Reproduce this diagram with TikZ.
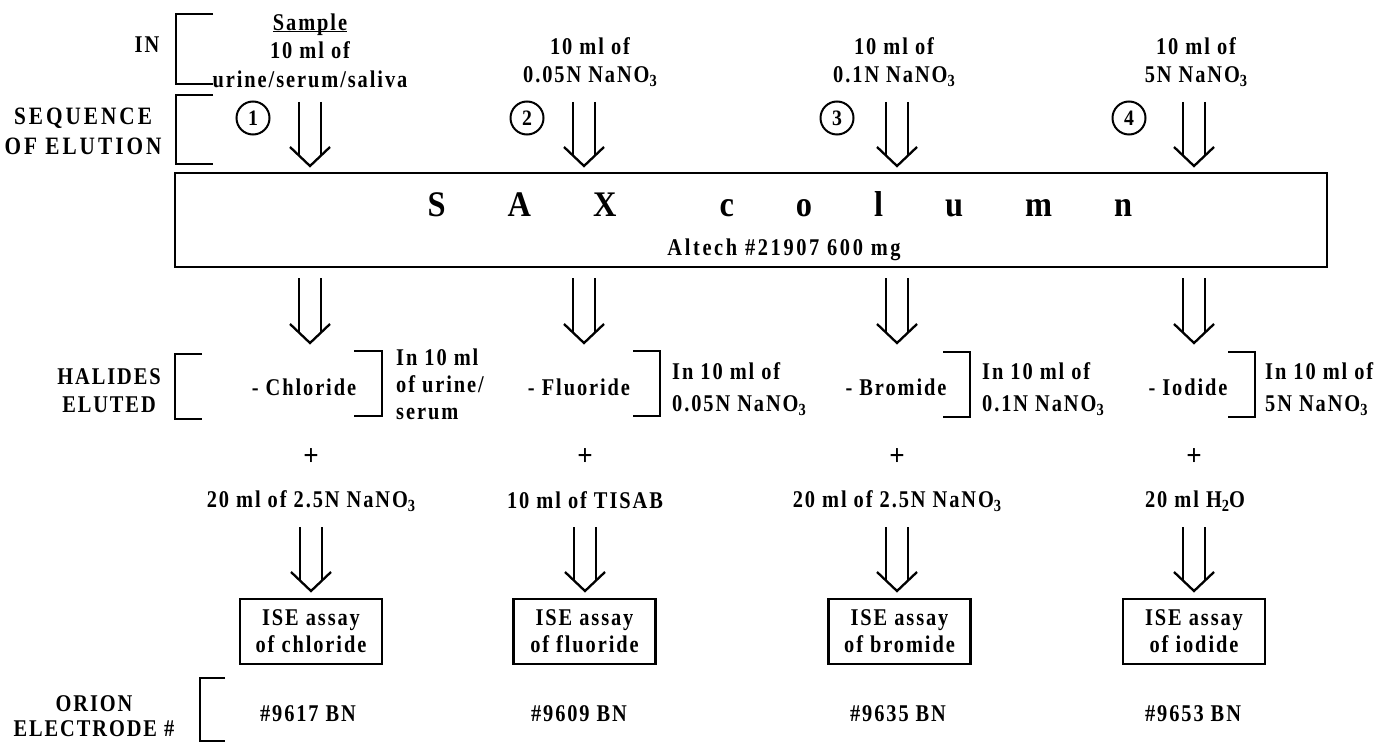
\documentclass[tikz,border=0pt]{standalone}
\usepackage{fontspec}
\setmainfont{Liberation Serif}
\newfontfamily\lsf[LetterSpace=8,FakeStretch=0.85]{Liberation Serif}
\newfontfamily\lsfw[LetterSpace=12,FakeStretch=0.85]{Liberation Serif}
\newfontfamily\lsfa[LetterSpace=11,FakeStretch=0.85]{Liberation Serif}
\newfontfamily\saxf[FakeStretch=0.9]{Liberation Serif}
\newcommand\subsc[1]{\raisebox{-0.4ex}{\fontsize{17}{17}\selectfont #1}}
\tikzset{
  txt/.style={font=\lsf\bfseries\fontsize{24}{28}\selectfont, inner sep=0pt, align=center},
  lbl/.style={font=\lsfw\bfseries\fontsize{25}{29}\selectfont, inner sep=0pt, align=center},
  note/.style={font=\lsf\bfseries\fontsize{24}{28}\selectfont, inner sep=0pt, align=left, anchor=west},
  plus/.style={font=\saxf\bfseries\fontsize{30}{30}\selectfont, inner sep=0pt},
  brk/.style={line width=2.8pt},
  boxl/.style={draw, line width=2.6pt, inner sep=0pt},
  num/.style={circle, draw, line width=2pt, minimum size=33pt, inner sep=0pt, font=\saxf\bfseries\fontsize{22}{22}\selectfont},
  dbl/.style={line width=2.3pt},
  pics/dblarr/.style={code={
    \draw[dbl] (-11,-#1) -- (-11,-11.4);
    \draw[dbl] (11,-#1) -- (11,-11.4);
    \draw[dbl] (-20,-19) -- (0,0) -- (20,-19);
  }}
}
\begin{document}
\begin{tikzpicture}[x=1pt,y=-1pt]
\useasboundingbox (0,0) rectangle (1399,743);
% left labels and brackets
\node[lbl, font=\lsf\bfseries\fontsize{24}{29}\selectfont] (in) at (147,45) {IN};
\draw[brk] (213,14) -- (176,14) -- (176,84) -- (213,84);
\node[lbl, font=\lsfw\bfseries\fontsize{25}{30}\selectfont] (seq) at (83,131) {SEQUENCE\\OF ELUTION};
\draw[brk] (213,95) -- (176,95) -- (176,164) -- (213,164);
\node[lbl, font=\lsf\bfseries\fontsize{24}{28}\selectfont] (hal) at (109,391) {HALIDES\\ELUTED};
\draw[brk] (202,354) -- (175,354) -- (175,419) -- (202,419);
\node[lbl, font=\lsf\bfseries\fontsize{24}{25}\selectfont] (ori) at (94,716) {ORION\\ELECTRODE \#};
\draw[brk] (225,678) -- (200,678) -- (200,741) -- (225,741);
% inputs
\node[txt, font=\lsf\bfseries\fontsize{24}{28.5}\selectfont] (in1) at (310,51) {\vphantom{S}\underline{\smash{Sample}}\\10 ml of\\urine/serum/saliva};
\node[txt] (in2) at (590,62) {10 ml of\\0.05N NaNO\subsc{3}};
\node[txt] (in3) at (894,62) {10 ml of\\0.1N NaNO\subsc{3}};
\node[txt] (in4) at (1196,62) {10 ml of\\5N NaNO\subsc{3}};
\node[num] (c1) at (253,118) {1};
\node[num] (c2) at (527,118) {2};
\node[num] (c3) at (837,118) {3};
\node[num] (c4) at (1129,118) {4};
\pic at (310,166) {dblarr=64};
\pic at (584,166) {dblarr=64};
\pic at (897,166) {dblarr=64};
\pic at (1194,166) {dblarr=64};
% SAX column
\node[boxl, minimum width=1152pt, minimum height=94pt] (sax) at (751,220) {};
\node[anchor=base west, inner sep=0pt, font=\saxf\bfseries\fontsize{36}{36}\selectfont] (saxt) at (427.5,217)
  {S\hspace{62pt}A\hspace{62pt}X\hspace{103pt}c\hspace{62pt}o\hspace{62pt}l\hspace{62pt}u\hspace{62pt}m\hspace{62pt}n};
\node[inner sep=0pt, font=\lsfa\bfseries\fontsize{24}{24}\selectfont] (alt) at (784,250) {Altech \#21907 600 mg};
\pic at (310,343) {dblarr=65};
\pic at (584,343) {dblarr=65};
\pic at (897,343) {dblarr=65};
\pic at (1194,343) {dblarr=65};
% halides
\node[txt] (h1) at (304,387) {- Chloride};
\draw[brk] (354,351) -- (382,351) -- (382,416) -- (354,416);
\node[note, font=\lsf\bfseries\fontsize{24}{27}\selectfont] (n1) at (396,384) {In 10 ml\\of urine/\\serum};
\node[txt] (h2) at (579,387) {- Fluoride};
\draw[brk] (633,351) -- (660,351) -- (660,416) -- (633,416);
\node[note, font=\lsf\bfseries\fontsize{24}{32}\selectfont] (n2) at (672,389) {In 10 ml of\\0.05N NaNO\subsc{3}};
\node[txt] (h3) at (896,387) {- Bromide};
\draw[brk] (943,352) -- (970,352) -- (970,417) -- (943,417);
\node[note, font=\lsf\bfseries\fontsize{24}{32}\selectfont] (n3) at (982,389) {In 10 ml of\\0.1N NaNO\subsc{3}};
\node[txt] (h4) at (1188,387) {- Iodide};
\draw[brk] (1228,352) -- (1255,352) -- (1255,417) -- (1228,417);
\node[note, font=\lsf\bfseries\fontsize{24}{32}\selectfont] (n4) at (1265,389) {In 10 ml of\\5N NaNO\subsc{3}};
% plus
\node[plus] (p1) at (311,457) {+};
\node[plus] (p2) at (585,457) {+};
\node[plus] (p3) at (897,457) {+};
\node[plus] (p4) at (1194,457) {+};
% reagents
\node[txt] (r1) at (311,501) {20 ml of 2.5N NaNO\subsc{3}};
\node[txt] (r2) at (585,500) {10 ml of TISAB};
\node[txt] (r3) at (897,501) {20 ml of 2.5N NaNO\subsc{3}};
\node[txt] (r4) at (1195,501) {20 ml H\subsc{2}O};
\pic at (311,591) {dblarr=64};
\pic at (585,591) {dblarr=64};
\pic at (897,591) {dblarr=64};
\pic at (1194,591) {dblarr=64};
% ISE boxes
\tikzset{isebox/.style={boxl, txt, draw, line width=2.6pt, minimum width=142pt, minimum height=65pt, font=\lsf\bfseries\fontsize{24}{27}\selectfont}}
\node[isebox] (b1) at (311,631.5) {ISE assay\\of chloride};
\node[isebox] (b2) at (584.5,631.5) {ISE assay\\of fluoride};
\node[isebox] (b3) at (899.5,631.5) {ISE assay\\of bromide};
\node[isebox] (b4) at (1194,631.5) {ISE assay\\of iodide};
% electrodes
\node[txt] (e1) at (308,714) {\#9617 BN};
\node[txt] (e2) at (579,714) {\#9609 BN};
\node[txt] (e3) at (898,714) {\#9635 BN};
\node[txt] (e4) at (1193,714) {\#9653 BN};
\end{tikzpicture}
\end{document}
